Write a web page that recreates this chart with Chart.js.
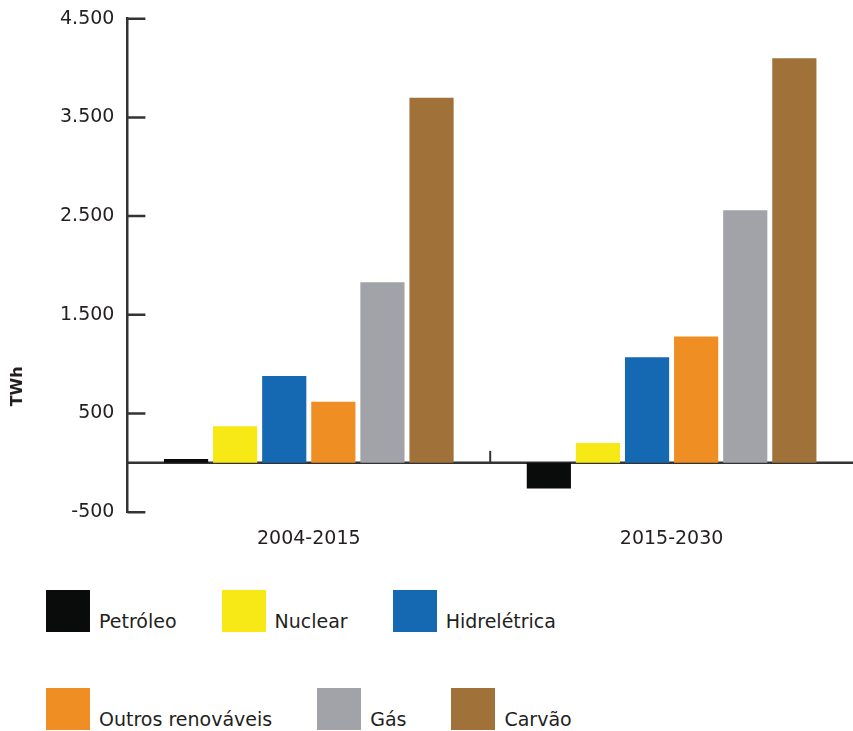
<!DOCTYPE html>
<html lang="pt-BR">
<head>
  <meta charset="UTF-8" />
  <title>Geração de eletricidade (TWh)</title>
  <script src="https://cdn.jsdelivr.net/npm/chart.js@4.4.1/dist/chart.umd.min.js"></script>
  <style>
    body { margin: 0; background: #fff; font-family: "DejaVu Sans", sans-serif; color: #231f20; }
    #wrap { width: 853px; height: 565px; }
    #legend { margin-top: 25px; }
    .legend-row { display: flex; align-items: flex-end; margin-left: 46px; height: 42px; }
    .legend-row + .legend-row { margin-top: 56px; }
    .item { display: flex; align-items: flex-end; margin-right: 45px; }
    .swatch { width: 44px; height: 42px; margin-right: 9px; }
    .label { font-size: 19px; line-height: 19px; margin-bottom: 1px; }
  </style>
</head>
<body>
  <div id="wrap"><canvas id="chart" width="853" height="565"></canvas></div>
  <div id="legend"></div>

  <script>
    const categories = ['2004-2015', '2015-2030'];
    const sources = ['Petróleo', 'Nuclear', 'Hidrelétrica', 'Outros renováveis', 'Gás', 'Carvão'];
    const petroleo = [40, -260];
    const nuclear = [370, 200];
    const hidreletrica = [880, 1070];
    const outrosRenovaveis = [620, 1280];
    const gas = [1830, 2560];
    const carvao = [3700, 4100];
    const yTicks = [-500, 500, 1500, 2500, 3500, 4500];
    const colors = ['#0a0b0b', '#f7e916', '#1569b2', '#ef8f23', '#a2a3a8', '#a07139'];

    const seriesValues = [petroleo, nuclear, hidreletrica, outrosRenovaveis, gas, carvao];

    function fmt(v) {
      return String(v).replace(/\B(?=(\d{3})+(?!\d))/g, '.');
    }

    // axis tick marks pointing inward, zero line, divider tick and the TWh label
    const axisMarks = {
      id: 'axisMarks',
      beforeDatasetsDraw(chart) {
        const { ctx, chartArea: a, scales: { x, y } } = chart;
        ctx.save();
        ctx.strokeStyle = '#333';
        ctx.lineWidth = 2.5;
        ctx.beginPath();
        y.ticks.forEach(t => {
          const py = y.getPixelForValue(t.value);
          ctx.moveTo(a.left, py);
          ctx.lineTo(a.left + 18, py);
        });
        const y0 = y.getPixelForValue(0);
        ctx.moveTo(a.left, y0);
        ctx.lineTo(a.right, y0);
        ctx.stroke();

        ctx.lineWidth = 2;
        ctx.beginPath();
        const xm = (x.getPixelForValue(0) + x.getPixelForValue(1)) / 2;
        ctx.moveTo(xm, y0);
        ctx.lineTo(xm, y0 - 12);
        ctx.stroke();

        ctx.translate(18, a.top + a.height * 0.745);
        ctx.rotate(-Math.PI / 2);
        ctx.fillStyle = '#231f20';
        ctx.font = 'bold 16px "DejaVu Sans"';
        ctx.textAlign = 'center';
        ctx.textBaseline = 'middle';
        ctx.fillText('TWh', 0, 0);
        ctx.restore();
      }
    };

    const datasets = sources.map((name, i) => ({
      label: name,
      data: seriesValues[i],
      backgroundColor: colors[i],
      borderWidth: 0,
      categoryPercentage: 0.812,
      barPercentage: 0.9
    }));

    new Chart(document.getElementById('chart'), {
      type: 'bar',
      data: { labels: categories, datasets },
      options: {
        responsive: false,
        animation: false,
        layout: { padding: { top: 13, left: 47, right: 0, bottom: 0 } },
        plugins: { legend: { display: false }, tooltip: { enabled: false } },
        scales: {
          x: {
            grid: { display: false, drawTicks: false },
            border: { display: false },
            ticks: { color: '#231f20', font: { family: 'DejaVu Sans', size: 19 }, padding: 15 }
          },
          y: {
            min: -500,
            max: 4500,
            afterBuildTicks: scale => { scale.ticks = yTicks.map(v => ({ value: v })); },
            grid: { display: false, drawTicks: false },
            border: { display: true, color: '#333', width: 2.5 },
            ticks: {
              color: '#231f20',
              font: { family: 'DejaVu Sans', size: 19, lineHeight: 0.6 },
              padding: 13,
              callback: v => fmt(v)
            }
          }
        }
      },
      plugins: [axisMarks]
    });

    // legend: two rows of three, square swatch with text sitting on its base line
    const legend = document.getElementById('legend');
    [[0, 1, 2], [3, 4, 5]].forEach(row => {
      const r = document.createElement('div');
      r.className = 'legend-row';
      row.forEach(i => {
        r.innerHTML += `<div class="item"><div class="swatch" style="background:${colors[i]}"></div><span class="label">${sources[i]}</span></div>`;
      });
      legend.appendChild(r);
    });
  </script>
</body>
</html>
